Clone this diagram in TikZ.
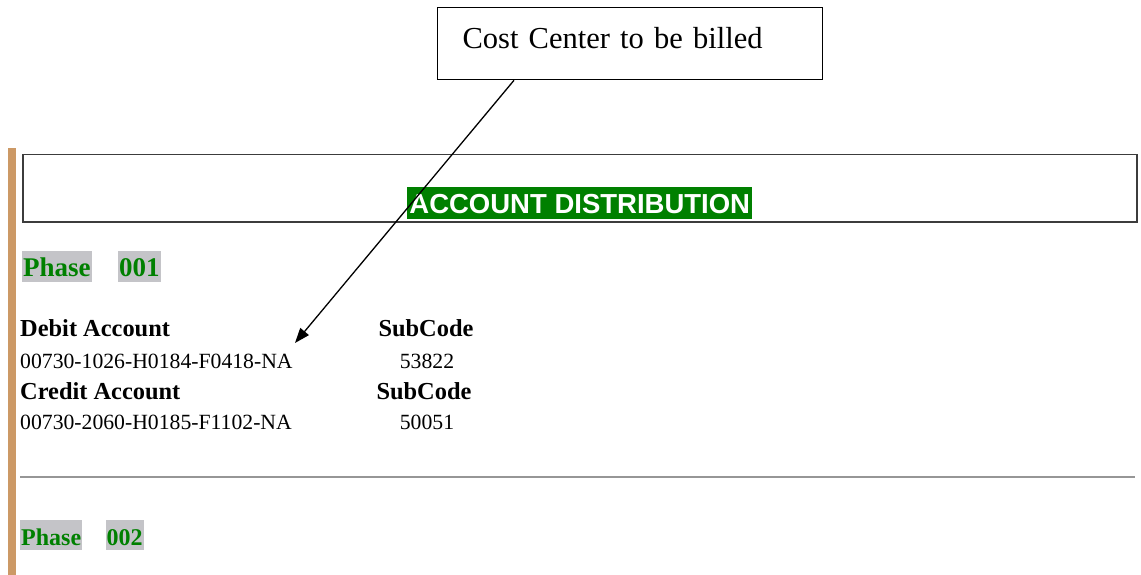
\documentclass[tikz,border=0pt]{standalone}
\usepackage{fontspec}
\setmainfont{Liberation Serif}
\newfontfamily\hdrfont{Liberation Sans}
\usetikzlibrary{arrows.meta, positioning}
\definecolor{cLeaf}{RGB}{0,128,0}
\definecolor{cTan}{RGB}{204,153,102}
\definecolor{cTag}{RGB}{196,196,200}
\definecolor{cFrame}{RGB}{60,60,60}
\definecolor{cRule}{RGB}{150,150,150}
\tikzset{
	callout/.style ={rectangle, draw=black, line width=1.3pt, anchor=north west, text width=335pt, inner xsep=25pt, inner ysep=0pt, align=left, text height=24pt, text depth=14pt, minimum height=72pt, font=\fontsize{30.5}{36}\selectfont},
	pointer/.style ={-{Triangle[length=15pt, width=11pt]}, line width=1.3pt},
	frame/.style   ={rectangle, draw=cFrame, line width=1.5pt, anchor=north west, minimum width=1114pt, minimum height=67pt, inner sep=0pt},
	hdrtag/.style  ={rectangle, fill=cLeaf, text=white, inner xsep=2pt, inner ysep=0pt, text height=26pt, text depth=6pt, font=\hdrfont\bfseries\fontsize{27.5}{32}\selectfont},
	% phase tags
	phasetag/.style={rectangle, fill=cTag, text=cLeaf, inner xsep=1pt, inner ysep=0pt, text height=25pt, text depth=6pt, font=\bfseries\fontsize{27}{32}\selectfont},
	phasesmall/.style={phasetag, text depth=5pt, font=\bfseries\fontsize{24}{28}\selectfont},
	% account lines
	acct/.style    ={inner sep=0pt, font=\bfseries\fontsize{24.4}{28}\selectfont},
	acctnum/.style ={inner sep=0pt, font=\fontsize{21.7}{26}\selectfont},
	divider/.style ={draw=cRule, line width=2pt},
}
\begin{document}
\begin{tikzpicture}[x=1pt, y=-1pt]
	\useasboundingbox (0,0) rectangle (1141,575);
	% side bar
	\fill[cTan] (8,148) rectangle (16,575);
	% callout
	\node[callout] (callout) at (437,7) {Cost Center to be billed};
	% header
	\node[frame] (hdrbox) at (22,154) {};
	\node[hdrtag, anchor=south, above=3pt of hdrbox.south] (hdr) {ACCOUNT DISTRIBUTION};
	% phase 001
	\node[phasetag, anchor=base west] (phase1) at (22,276) {Phase};
	\node[phasetag, right=26pt of phase1] (phase1no) {001};
	\node[acct, anchor=base west] (debit) at (20,336) {Debit Account};
	\node[acct, anchor=base] (debitsub) at (426,336) {SubCode};
	\node[acctnum, anchor=base west] (debitno) at (20,368) {00730-1026-H0184-F0418-NA};
	\node[acctnum, anchor=base] (debitcode) at (427,368) {53822};
	\node[acct, anchor=base west] (credit) at (20,399) {Credit Account};
	\node[acct, anchor=base] (creditsub) at (424,399) {SubCode};
	\node[acctnum, anchor=base west] (creditno) at (20,429) {00730-2060-H0185-F1102-NA};
	\node[acctnum, anchor=base] (creditcode) at (427,429) {50051};
	\draw[divider] (20,477) -- (1135,477);
	% phase 002
	\node[phasesmall, anchor=base west] (phase2) at (20,545) {Phase};
	\node[phasesmall, right=23pt of phase2] (phase2no) {002};
	% arrow
	\coordinate (tip) at (295,343);
	\draw[pointer] ([xshift=77pt]callout.south west) -- (tip);
\end{tikzpicture}
\end{document}
